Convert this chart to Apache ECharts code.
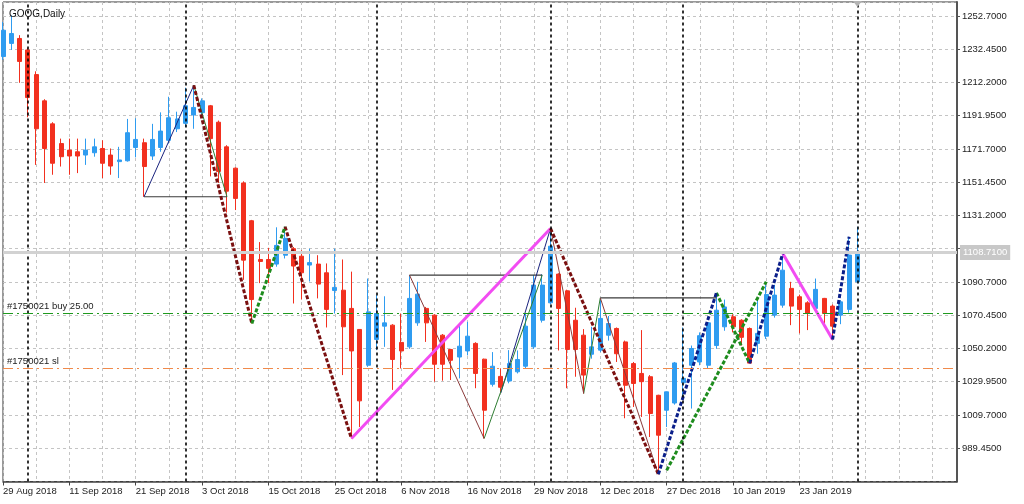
<!DOCTYPE html>
<html><head><meta charset="utf-8">
<script src="https://cdn.jsdelivr.net/npm/echarts@6/dist/echarts.min.js"></script>
<style>html,body{margin:0;padding:0;background:#fff}#c{width:1024px;height:504px}</style>
</head><body><div id="c"></div>
<script>
// ---- categories (trading days, broker calendar) ----
const dates = ['29 Aug 2018','30 Aug 2018','31 Aug 2018','4 Sep 2018','5 Sep 2018','6 Sep 2018','7 Sep 2018','10 Sep 2018','11 Sep 2018','12 Sep 2018','13 Sep 2018','14 Sep 2018','17 Sep 2018','18 Sep 2018','19 Sep 2018','20 Sep 2018','21 Sep 2018','24 Sep 2018','25 Sep 2018','26 Sep 2018','27 Sep 2018','28 Sep 2018','1 Oct 2018','2 Oct 2018','3 Oct 2018','4 Oct 2018','5 Oct 2018','8 Oct 2018','9 Oct 2018','10 Oct 2018','11 Oct 2018','12 Oct 2018','15 Oct 2018','16 Oct 2018','17 Oct 2018','18 Oct 2018','19 Oct 2018','22 Oct 2018','23 Oct 2018','24 Oct 2018','25 Oct 2018','26 Oct 2018','29 Oct 2018','30 Oct 2018','31 Oct 2018','1 Nov 2018','2 Nov 2018','5 Nov 2018','6 Nov 2018','7 Nov 2018','8 Nov 2018','9 Nov 2018','12 Nov 2018','13 Nov 2018','14 Nov 2018','15 Nov 2018','16 Nov 2018','19 Nov 2018','20 Nov 2018','21 Nov 2018','23 Nov 2018','26 Nov 2018','27 Nov 2018','28 Nov 2018','29 Nov 2018','30 Nov 2018','3 Dec 2018','4 Dec 2018','6 Dec 2018','7 Dec 2018','10 Dec 2018','11 Dec 2018','12 Dec 2018','13 Dec 2018','14 Dec 2018','17 Dec 2018','18 Dec 2018','19 Dec 2018','20 Dec 2018','21 Dec 2018','27 Dec 2018','28 Dec 2018','2 Jan 2019','3 Jan 2019','4 Jan 2019','7 Jan 2019','8 Jan 2019','9 Jan 2019','10 Jan 2019','11 Jan 2019','14 Jan 2019','15 Jan 2019','16 Jan 2019','17 Jan 2019','18 Jan 2019','22 Jan 2019','23 Jan 2019','24 Jan 2019','25 Jan 2019','28 Jan 2019','29 Jan 2019','30 Jan 2019','31 Jan 2019','1 Feb 2019'];
const futureSlots = 12;

// ---- OHLC ----
const open  = [1228,1236,1239,1232,1217,1201,1187,1175,1171,1170,1168,1169.4,1172,1168,1164,1164.5,1172.6,1175.5,1167.4,1172.6,1177,1184,1187.3,1192.4,1193.8,1198,1188,1173,1160,1151,1128,1104.4,1104.4,1101.6,1107,1111,1106.4,1101,1101.6,1096.3,1085.5,1085.7,1074.6,1061.8,1040,1055.7,1063.8,1064.4,1053.9,1051.2,1065.8,1074.6,1070.5,1058.3,1049.6,1045,1048.7,1053.3,1043.7,1028.4,1033.2,1030.4,1036,1039.4,1051.2,1067.4,1078,1095.5,1085.3,1067.4,1058.3,1046.7,1049.2,1058.3,1062.4,1054.2,1041,1035,1033,1021.7,1012.6,1017,1029.3,1040,1042,1040,1052,1063.4,1069.5,1067.4,1062.4,1053.3,1057.7,1070.5,1076.6,1086.8,1081.7,1078,1074.6,1080.7,1076,1070.5,1074,1090.8];
const high  = [1249,1253,1241,1233,1219,1202,1188,1178,1178,1178,1178,1178,1177,1172,1173,1190,1190.4,1178,1187,1194,1203.5,1194.4,1209,1210.5,1202.5,1198.5,1189,1174,1160.5,1152,1128.5,1115,1111.5,1124,1124.4,1112,1110,1111,1107,1102,1111,1104.4,1097,1062,1092.8,1082.7,1082,1065,1071.5,1094.9,1090.8,1075.5,1071,1059,1050,1064.4,1066.4,1054,1044,1048,1038,1049.2,1049,1071.5,1095,1095.4,1123.3,1096,1086,1075,1062,1063.4,1081,1070,1063,1055,1042,1061.4,1034,1022,1024,1042,1063,1052,1060,1066,1084.1,1080,1071,1068,1063,1079.6,1088.8,1089,1108.1,1090.8,1083,1079,1092.8,1081,1077,1079.6,1118.2,1124.3];
const low   = [1226,1232,1212,1191,1162,1151,1156,1161,1156,1157,1162,1167,1154,1156,1154,1164,1166.6,1142.6,1165,1170,1175,1182,1185,1184,1191.3,1155,1151,1133,1134.5,1092,1065.4,1090,1090,1100,1105,1077.6,1080,1091,1080.7,1063,1071.5,1034,995.4,1002.4,1039,1049.2,1051.2,1025,1038,1050,1064,1054.2,1030,1030.6,1031,1032,1046,1026,995.4,1027,1023,1029,1035,1038,1050,1066,1077,1049,1026,1033,1022.8,1044,1048,1055,1042,1007.7,1014.6,1008.5,996.3,973.6,1002.4,1016,1020,1013.6,1040,1038,1050,1061,1060,1052,1041.1,1047,1056,1069,1075,1064.4,1059.4,1061.4,1073,1064.9,1055.7,1065,1072,1090];
const close = [1244,1242,1225,1203,1184,1172,1163,1167,1167.4,1167.4,1171,1173,1163,1161.3,1165,1181.6,1177.5,1161,1177.5,1182.6,1190.7,1190,1198,1197,1201,1178,1158,1146,1141.6,1104,1080,1103.2,1099,1113,1117.3,1100.4,1096.3,1102.5,1089.4,1074,1087.4,1063.4,1048.7,1018.3,1072.5,1071.5,1065.8,1043.5,1048.7,1080.7,1083.3,1065.8,1040.6,1040.6,1043,1051.6,1057.7,1035,1012.6,1039.4,1026.6,1041,1043.5,1063.8,1088.8,1088.8,1112.5,1074.6,1049.6,1049.6,1034,1051.2,1068.5,1065.4,1047,1027.8,1028.9,1030,1010.6,997.4,1023.8,1041.4,1032,1050.2,1058,1065.8,1073.5,1075.5,1063.4,1057,1041.3,1059.4,1083.1,1082.7,1097.9,1076,1074,1071.5,1086.2,1071.5,1063.8,1078.6,1107.1,1108.71];

// ---- price axis ----
const yTickStart = 969.2, yTickStep = 20.25, yMax = 1261.2;
const currentPrice = 1108.71;
const buyLevel = 1071.5, slLevel = 1038.0;
const buyText = '#1750021 buy 25.00', slText = '#1750021 sl';
const labelEvery = 8, lastLabelIdx = 96, gridEvery = 4;

// ---- drawn pattern legs [barIndex, price] ----
const maroonDashedLegs = [[[23,1210.5],[30,1065.4]], [[34,1124.4],[42,995.4]], [[66,1123.3],[79,973.6]]];
const greenDashedLegs  = [[[30,1065.4],[34,1124.4]], [[80,976],[92,1090.8]], [[86,1084.1],[90,1041.1]]];
const navyDashedLegs   = [[[79,973.6],[86,1084.1]], [[90,1041.1],[94,1108.1]], [[100,1055.7],[102,1118.2]]];
const pinkLegs         = [[[42,995.4],[66,1123.3]], [[94,1108.1],[100,1055.7]]];
const blackThinLegs    = [[[17,1142.6],[27,1142.6]], [[49,1094.9],[65,1094.9]], [[72,1081],[86,1081]]];
const navyThinLegs     = [[[17,1142.6],[23,1210.5]], [[60,1023],[66,1123.3]]];
const greenThinLegs    = [[[23,1210.5],[27,1142.6]], [[58,995.4],[65,1094.9]], [[70,1022.8],[72,1081]]];
const brownThinLegs    = [[[49,1094.9],[58,995.4]], [[66,1123.3],[70,1022.8]], [[72,1081],[79,973.6]]];

// ---- build ----
const cats = dates.concat(Array.from({length: futureSlots}, () => ''));
const candles = open.map((o, i) => [o, close[i], low[i], high[i]]);
const monthOf = d => d.split(' ')[1];
const separators = dates.map((d, i) => i).filter(i => i > 0 && monthOf(dates[i]) !== monthOf(dates[i - 1]));
const FONT = 'Liberation Sans';

function legSeries(legs, color, width, type, z) {
  return legs.map(leg => ({
    type: 'line', data: leg, symbol: 'none', silent: true, z: z,
    lineStyle: {color: color, width: width, type: type}, animation: false
  }));
}

const chart = echarts.init(document.getElementById('c'), null, {renderer: 'canvas'});
const option = {
  animation: false,
  backgroundColor: '#ffffff',
  title: {text: 'GOOG,Daily', left: 4, top: 4, textStyle: {fontFamily: FONT, fontSize: 10, fontWeight: 'normal', color: '#111'}},
  grid: {left: 2, right: 67, top: 2, bottom: 22.5, show: true, borderColor: '#333', borderWidth: 1},
  xAxis: {
    type: 'category', data: cats, boundaryGap: false,
    axisLine: {show: true, lineStyle: {color: '#444', width: 1.5}},
    axisTick: {show: true, length: 4, lineStyle: {color: '#444'}, interval: (i) => i % labelEvery === 0 && i <= lastLabelIdx},
    axisLabel: {interval: (i) => i % labelEvery === 0 && i <= lastLabelIdx, align: 'left', margin: 5,
      fontFamily: FONT, fontSize: 9.5, color: '#222'},
    splitLine: {show: true, interval: (i) => i % gridEvery === 0, lineStyle: {color: '#c4c4c4', type: [3, 3], width: 1}}
  },
  yAxis: {
    type: 'value', position: 'right', scale: true,
    min: yTickStart, max: yMax, interval: yTickStep,
    axisLine: {show: true, lineStyle: {color: '#555', width: 2}},
    axisTick: {show: true, length: 3, lineStyle: {color: '#555'}},
    axisLabel: {showMinLabel: false, showMaxLabel: false, margin: 5, fontFamily: FONT, fontSize: 9.5, color: '#222',
      formatter: (v) => Math.abs(v - currentPrice) < 8 ? '' : v.toFixed(4)},
    splitLine: {show: true, lineStyle: {color: '#c4c4c4', type: [3, 3], width: 1}}
  },
  series: [
    {
      type: 'line', data: [], z: 1, silent: true,
      markLine: {
        silent: true, symbol: 'none', animation: false,
        data: separators.map(i => ({xAxis: i, lineStyle: {color: '#000', type: [3, 3], width: 1.6}, label: {show: false}}))
          .concat([{yAxis: currentPrice, lineStyle: {color: '#d2d2d2', type: 'solid', width: 3},
            label: {show: true, position: 'end', distance: 3, formatter: currentPrice.toFixed(4), color: '#ffffff',
              backgroundColor: '#c8c8c8', padding: [3, 3, 2, 3], fontFamily: FONT, fontSize: 9.5}}])
      }
    },
    {
      type: 'candlestick', data: candles, z: 2, barWidth: 4.5, silent: true,
      itemStyle: {color: '#2f9cf0', color0: '#f2301f', borderColor: '#2f9cf0', borderColor0: '#f2301f', borderWidth: 1},
      markPoint: {
        silent: true, animation: false,
        data: [{coord: [dates.length - 1, yMax], symbol: 'triangle', symbolRotate: 180, symbolSize: [9, 6], symbolOffset: [0, 2],
          itemStyle: {color: '#b4b4b4'}, label: {show: false}}]
      }
    },
    ...legSeries(blackThinLegs, '#3a3a3a', 1.2, 'solid', 3),
    ...legSeries(navyThinLegs, '#1a237e', 1, 'solid', 3),
    ...legSeries(greenThinLegs, '#2e7d32', 1, 'solid', 3),
    ...legSeries(brownThinLegs, '#8b3a3a', 1, 'solid', 3),
    ...legSeries(pinkLegs, '#f24cf2', 3, 'solid', 4),
    ...legSeries(maroonDashedLegs, '#7a1010', 3, [4, 2], 4),
    ...legSeries(greenDashedLegs, '#1e8c1e', 3, [4, 2], 4),
    ...legSeries(navyDashedLegs, '#0b1f8a', 3, [4, 2], 4),
    {
      type: 'line', data: [], z: 5, silent: true,
      markLine: {
        silent: true, symbol: 'none', animation: false,
        data: [
          {yAxis: buyLevel, lineStyle: {color: '#1f9a1f', type: [10, 4, 2, 4], width: 1},
            label: {show: true, position: 'insideStartTop', distance: [4, 2], formatter: buyText, color: '#222', fontFamily: FONT, fontSize: 9.5}},
          {yAxis: slLevel, lineStyle: {color: '#f08a4b', type: [10, 4, 2, 4], width: 1},
            label: {show: true, position: 'insideStartTop', distance: [4, 2], formatter: slText, color: '#222', fontFamily: FONT, fontSize: 9.5}}
        ]
      }
    }
  ]
};
chart.setOption(option);
</script>
</body></html>
